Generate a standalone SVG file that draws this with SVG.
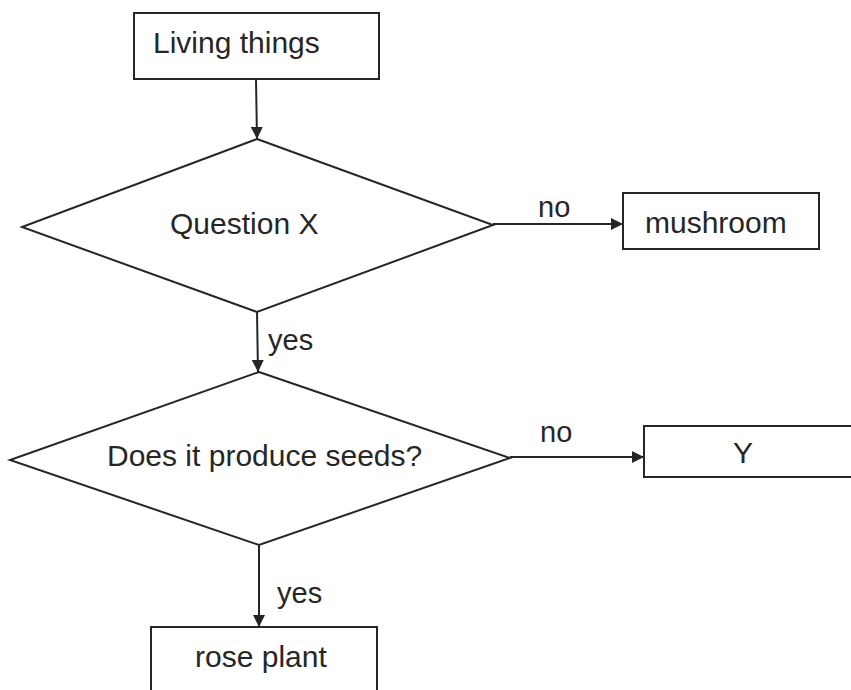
<svg xmlns="http://www.w3.org/2000/svg" width="851" height="690" viewBox="0 0 851 690">
  <style>
    .box { fill: #ffffff; stroke: #262626; stroke-width: 2; }
    .dia { fill: #ffffff; stroke: #262626; stroke-width: 2; stroke-linejoin: miter; }
    .txt { font-family: "Liberation Sans", Arial, sans-serif; font-size: 30px; fill: #262626; }
    .lbl { font-family: "Liberation Sans", Arial, sans-serif; font-size: 29px; fill: #262626; }
    .edge { fill: none; stroke: #262626; stroke-width: 2; marker-end: url(#arrow); }
  </style>
  <defs>
    <marker id="arrow" viewBox="0 0 10 10" refX="10" refY="5" markerWidth="6" markerHeight="6" markerUnits="strokeWidth" orient="auto">
      <path d="M0,0 L10,5 L0,10 z" fill="#262626"/>
    </marker>
  </defs>
  <rect width="851" height="690" fill="#ffffff"/>

  <g id="connectors">
    <path class="edge" d="M256,79 L257,139"/>
    <path class="edge" d="M493,224 L623,224"/>
    <text class="lbl" x="538" y="217">no</text>
    <path class="edge" d="M257,312 L258,372"/>
    <text class="lbl" x="268" y="350">yes</text>
    <path class="edge" d="M510,457 L644,457"/>
    <text class="lbl" x="540" y="442">no</text>
    <path class="edge" d="M259,545 L259,627"/>
    <text class="lbl" x="277" y="603">yes</text>
  </g>

  <g id="living-things">
    <rect class="box" x="134" y="13" width="245" height="66"/>
    <text class="txt" x="153" y="53">Living things</text>
  </g>

  <g id="question-x">
    <polygon class="dia" points="257,139 493,225 257,312 22,227"/>
    <text class="txt" x="170" y="234">Question X</text>
  </g>

  <g id="mushroom">
    <rect class="box" x="623" y="193" width="196" height="56"/>
    <text class="txt" x="645" y="233">mushroom</text>
  </g>

  <g id="seeds">
    <polygon class="dia" points="259,372 510,458 259,545 10,460"/>
    <text class="txt" x="107" y="466">Does it produce seeds?</text>
  </g>

  <g id="y">
    <rect class="box" x="644" y="426" width="216" height="51"/>
    <text class="txt" x="733" y="463">Y</text>
  </g>

  <g id="rose-plant">
    <rect class="box" x="151" y="627" width="226" height="80"/>
    <text class="txt" x="195" y="667">rose plant</text>
  </g>
</svg>
